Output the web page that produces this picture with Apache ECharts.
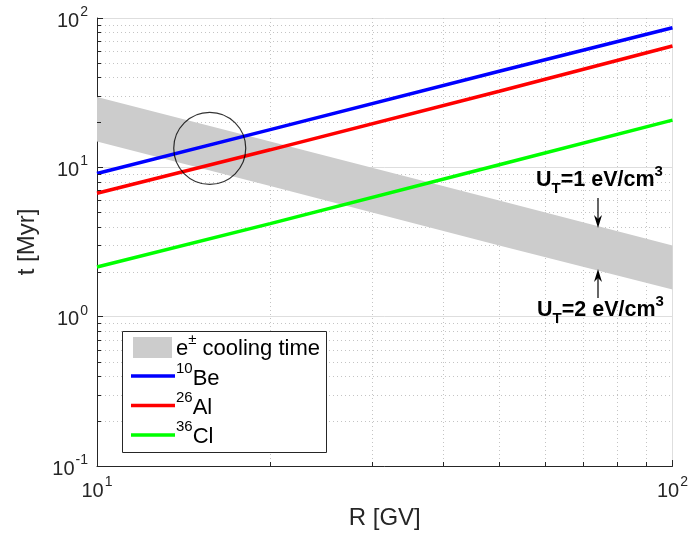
<!DOCTYPE html>
<html><head><meta charset="utf-8">
<script src="https://cdn.jsdelivr.net/npm/echarts@6/dist/echarts.min.js"></script>
<style>html,body{margin:0;padding:0;background:#fff}#c{width:691px;height:537px}</style>
</head><body><div id="c"></div>
<script>
// ---- data ----
const rigidity = [10, 20, 50, 100];            // R [GV]
const be10 = [9.1, 17.9, 44, 86];              // t [Myr]
const al26 = [6.7, 13.1, 32.3, 65];
const cl36 = [2.15, 4.2, 10.4, 20.7];
const coolUpper = [29.6, 14.9, 6.0, 3.0];      // U_T = 1 eV/cm^3
const coolLower = [14.9, 7.5, 3.0, 1.52];      // U_T = 2 eV/cm^3
const circleCenter = [15.7, 13.4];
const xDecades = [10, 100];
const yDecades = [0.1, 1, 10, 100];
const minorSteps = [2, 3, 4, 5, 6, 7, 8, 9];

const FONT = "'Liberation Sans', Arial, Helvetica, sans-serif";
const AX = '#262626';

const chart = echarts.init(document.getElementById('c'));

function powLabel(v) {
  const e = Math.round(Math.log10(v));
  return '{b|10}{s|' + e + '}';
}
const labelRich = {
  b: { fontSize: 20, fontFamily: FONT, color: AX, verticalAlign: 'bottom', lineHeight: 26 },
  s: { fontSize: 14, fontFamily: FONT, color: AX, verticalAlign: 'top', lineHeight: 14, padding: [0, 0, 0, 1] }
};

const option = {
  animation: false,
  backgroundColor: '#fff',
  grid: { left: 97, right: 17, top: 18, bottom: 71, containLabel: false },
  xAxis: {
    type: 'log', logBase: 10, min: 10, max: 100,
    name: 'R [GV]', nameLocation: 'middle', nameGap: 39,
    nameTextStyle: { fontSize: 24, fontFamily: FONT, color: AX },
    axisLine: { show: true, lineStyle: { color: AX, width: 1 } },
    axisTick: { show: true, inside: true, length: 6, lineStyle: { color: AX } },
    axisLabel: { formatter: powLabel, rich: labelRich, margin: 9 },
    splitLine: { show: true, lineStyle: { color: '#dedede', width: 1 } },
    minorTick: { show: false }
  },
  yAxis: {
    type: 'log', logBase: 10, min: 0.1, max: 100,
    name: 't [Myr]', nameLocation: 'middle', nameGap: 58,
    nameTextStyle: { fontSize: 24, fontFamily: FONT, color: AX },
    axisLine: { show: true, lineStyle: { color: AX, width: 1 } },
    axisTick: { show: true, inside: true, length: 6, lineStyle: { color: AX } },
    axisLabel: { formatter: powLabel, rich: labelRich, margin: 9 },
    splitLine: { show: true, lineStyle: { color: '#dedede', width: 1 } }
  },
  series: [
    {
      name: 'cooling', type: 'custom', z: 3, clip: true,
      data: [[rigidity[0], coolUpper[0]]],
      renderItem: function (params, api) {
        const pts = [];
        for (let i = 0; i < rigidity.length; i++) pts.push(api.coord([rigidity[i], coolUpper[i]]));
        for (let i = rigidity.length - 1; i >= 0; i--) pts.push(api.coord([rigidity[i], coolLower[i]]));
        return { type: 'polygon', shape: { points: pts }, style: { fill: '#cccccc', stroke: null } };
      }
    },
    { name: 'Be', type: 'line', z: 5, symbol: 'none', data: rigidity.map((r, i) => [r, be10[i]]),
      lineStyle: { color: '#0000ff', width: 3.5 } },
    { name: 'Al', type: 'line', z: 5, symbol: 'none', data: rigidity.map((r, i) => [r, al26[i]]),
      lineStyle: { color: '#ff0000', width: 3.5 } },
    { name: 'Cl', type: 'line', z: 5, symbol: 'none', data: rigidity.map((r, i) => [r, cl36[i]]),
      lineStyle: { color: '#00ff00', width: 3.5 } },
    { name: 'circle', type: 'scatter', z: 6, data: [circleCenter], symbol: 'circle', symbolSize: 72,
      itemStyle: { color: 'rgba(0,0,0,0)', borderColor: '#000', borderWidth: 1.2 } }
  ]
};
chart.setOption(option);

// ---- minor grid, minor ticks, legend and annotations ----
const px = v => chart.convertToPixel({ xAxisIndex: 0 }, v);
const py = v => chart.convertToPixel({ yAxisIndex: 0 }, v);
const xL = px(10), xR = px(100), yB = py(0.1), yT = py(100);
const g = [];
function seg(x1, y1, x2, y2, style, z) {
  g.push({ type: 'line', z: z, silent: true, shape: { x1, y1, x2, y2 }, style });
}
const dotStyle = { stroke: '#c4c4c4', lineWidth: 1, lineDash: [1, 3] };
const tickStyle = { stroke: AX, lineWidth: 1 };
for (const d of xDecades.slice(0, -1)) {
  for (const m of minorSteps) {
    const x = Math.round(px(d * m)) + 0.5;
    seg(x, yT, x, yB, dotStyle, 1);
    seg(x, yB, x, yB - 4, tickStyle, 10);
  }
}
for (const d of yDecades.slice(0, -1)) {
  for (const m of minorSteps) {
    const y = Math.round(py(d * m)) + 0.5;
    seg(xL, y, xR, y, dotStyle, 1);
    seg(xL, y, xL + 4, y, tickStyle, 10);
  }
}

// legend
const LB = { x: 122.5, y: 331.5, w: 204, h: 121 };
g.push({ type: 'rect', z: 20, shape: { x: LB.x, y: LB.y, width: LB.w, height: LB.h },
  style: { fill: '#fff', stroke: AX, lineWidth: 1 } });
g.push({ type: 'rect', z: 21, shape: { x: 133, y: 337, width: 39, height: 21 }, style: { fill: '#cccccc' } });
const legendLines = [['#0000ff', 376], ['#ff0000', 405.5], ['#00ff00', 435]];
for (const [c, y] of legendLines) seg(131, y, 175, y, { stroke: c, lineWidth: 3.5 }, 21);
const legRich = {
  b: { fontSize: 22, fontFamily: FONT, color: '#000', verticalAlign: 'bottom', lineHeight: 28 },
  s: { fontSize: 15, fontFamily: FONT, color: '#000', verticalAlign: 'top', lineHeight: 15 }
};
const legendTexts = [
  ['{b|e}{s|±}{b| cooling time}', 346],
  ['{s|10}{b|Be}', 375.5],
  ['{s|26}{b|Al}', 404.5],
  ['{s|36}{b|Cl}', 433.5]
];
for (const [t, y] of legendTexts) {
  g.push({ type: 'text', z: 22, x: 176, y: y,
    style: { text: t, rich: legRich, align: 'left', verticalAlign: 'middle' } });
}

// annotations
const annRich = {
  b: { fontSize: 21.5, fontWeight: 'bold', fontFamily: FONT, color: '#000', verticalAlign: 'middle', lineHeight: 24 },
  sub: { fontSize: 15, fontWeight: 'bold', fontFamily: FONT, color: '#000', verticalAlign: 'bottom', lineHeight: 32 },
  sup: { fontSize: 15, fontWeight: 'bold', fontFamily: FONT, color: '#000', verticalAlign: 'top', lineHeight: 32 }
};
g.push({ type: 'text', z: 22, x: 536, y: 180,
  style: { text: '{b|U}{sub|T}{b|=1 eV/cm}{sup|3}', rich: annRich, align: 'left', verticalAlign: 'middle' } });
g.push({ type: 'text', z: 22, x: 537, y: 310,
  style: { text: '{b|U}{sub|T}{b|=2 eV/cm}{sup|3}', rich: annRich, align: 'left', verticalAlign: 'middle' } });
const ax = 598;
seg(ax, 198, ax, 225, { stroke: '#000', lineWidth: 1.2 }, 22);
g.push({ type: 'polygon', z: 22, shape: { points: [[ax - 4, 215], [ax, 228], [ax + 4, 215], [ax, 219]] }, style: { fill: '#000' } });
seg(ax, 298, ax, 272, { stroke: '#000', lineWidth: 1.2 }, 22);
g.push({ type: 'polygon', z: 22, shape: { points: [[ax - 4, 282], [ax, 269], [ax + 4, 282], [ax, 278]] }, style: { fill: '#000' } });

chart.setOption({ graphic: { elements: g } });
</script>
</body></html>
